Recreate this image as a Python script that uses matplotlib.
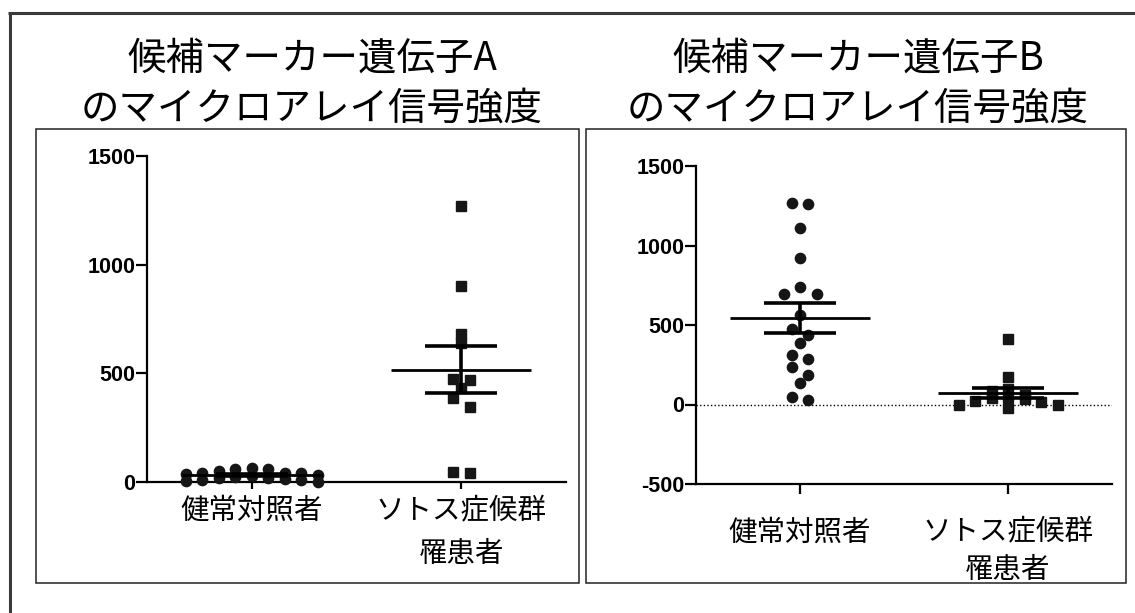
import numpy as np
import matplotlib
matplotlib.use("Agg")
import matplotlib.pyplot as plt
from matplotlib.lines import Line2D
from matplotlib.patches import Rectangle

JP = ["Noto Sans CJK JP", "DejaVu Sans"]
NUM = "Liberation Sans"

# ---- data -------------------------------------------------------------
groups = ["健常対照者", "ソトス症候群\n罹患者"]

titles = ["候補マーカー遺伝子A\nのマイクロアレイ信号強度",
          "候補マーカー遺伝子B\nのマイクロアレイ信号強度"]

gene_a_control = [66, 62, 60, 50, 43, 43, 40, 35, 30, 28, 25, 20, 18, 15, 10, 8, 5, 2]
gene_a_patient = [1270, 902, 681, 638, 474, 469, 431, 385, 347, 45, 40]

gene_b_control = [1268, 1260, 1107, 924, 740, 698, 698, 566, 474, 436, 384,
                  310, 289, 233, 184, 136, 48, 27]
gene_b_patient = [409, 174, 100, 85, 60, 45, 38, 33, 21, 15, -4, -5, -25]

yticks_a = [0, 500, 1000, 1500]
yticks_b = [-500, 0, 500, 1000, 1500]

# ---- figure -----------------------------------------------------------
W, H = 1135, 613
fig = plt.figure(figsize=(W / 100, H / 100), dpi=100)
fig.patch.set_facecolor("white")


def fx(px):
    return px / W


def fy(py):
    return 1 - py / H


# outer frame (top and left edges)
fig.add_artist(Line2D([fx(8), fx(W)], [fy(13), fy(13)], transform=fig.transFigure,
                      color="#3a3a3a", lw=2.2, solid_capstyle="butt"))
fig.add_artist(Line2D([fx(9.5), fx(9.5)], [fy(13), fy(H)], transform=fig.transFigure,
                      color="#3a3a3a", lw=2.2, solid_capstyle="butt"))

# panel boxes
for x0, x1 in [(36, 579), (586, 1126)]:
    fig.add_artist(Rectangle((fx(x0), fy(583)), fx(x1 - x0), (583 - 129) / H,
                             transform=fig.transFigure, fill=False,
                             edgecolor="#222222", lw=1.1))

MARK = "#161616"


def scatter_x(ax, center, values, row_px, gap_px):
    """Column-scatter layout: values falling in the same horizontal band are
    spread symmetrically around the group centre."""
    vals = np.asarray(values, float)
    pts = ax.transData.transform(np.column_stack([np.full(len(vals), center), vals]))
    xc, ys = pts[0, 0], pts[:, 1]
    order = np.argsort(-vals, kind="stable")
    rows, cur = [], [order[0]]
    for i in order[1:]:
        if ys[cur[0]] - ys[i] < row_px:
            cur.append(i)
        else:
            rows.append(cur)
            cur = [i]
    rows.append(cur)
    offs = np.zeros(len(vals))
    for row in rows:
        n = len(row)
        # alternate left/right so the row stays balanced
        slots = (np.arange(n) - (n - 1) / 2.0) * gap_px
        slot_order = np.argsort(np.abs(slots), kind="stable")
        for j, i in enumerate(row):
            offs[i] = slots[slot_order[j]]
    inv = ax.transData.inverted()
    return inv.transform(np.column_stack([xc + offs, ys]))[:, 0]


def mean_sem(ax, x, values):
    v = np.asarray(values, float)
    m = v.mean()
    s = v.std(ddof=1) / np.sqrt(len(v))
    ax.hlines(m, x - 0.335, x + 0.335, color="black", lw=2.0, zorder=5, clip_on=False)
    ax.hlines([m - s, m + s], x - 0.172, x + 0.172, color="black", lw=2.6, zorder=5,
              clip_on=False)
    ax.vlines(x, m - s, m + s, color="black", lw=2.6, zorder=5, clip_on=False)


def style_axes(ax, yticks, xtick_len, xpad, linesp):
    for side in ("top", "right"):
        ax.spines[side].set_visible(False)
    for side in ("left", "bottom"):
        ax.spines[side].set_linewidth(1.6)
        ax.spines[side].set_color("black")
    ax.set_xlim(-0.5, 1.5)
    ax.set_yticks(yticks)
    ax.set_yticklabels([str(t) for t in yticks], fontfamily=NUM, fontweight="bold",
                       fontsize=15.5)
    ax.tick_params(axis="y", direction="out", length=8, width=1.6, pad=0.5)
    ax.set_xticks([0, 1])
    ax.set_xticklabels(groups, fontfamily=JP, fontsize=20.5, linespacing=linesp)
    ax.tick_params(axis="x", direction="out", length=xtick_len, width=1.6, pad=xpad)
    ax.patch.set_alpha(0)


def draw_panel(ax, control, patient, ylim, yticks, xtick_len, xpad, linesp):
    ax.set_ylim(*ylim)
    style_axes(ax, yticks, xtick_len, xpad, linesp)
    xs0 = scatter_x(ax, 0, control, 8.0, 16.5)
    xs1 = scatter_x(ax, 1, patient, 8.5, 16.5)
    ax.plot(xs0, control, "o", ms=7.4, color=MARK, mec=MARK, zorder=4, clip_on=False)
    ax.plot(xs1, patient, "s", ms=6.6, color=MARK, mec=MARK, zorder=4, clip_on=False)
    mean_sem(ax, 0, control)
    mean_sem(ax, 1, patient)


ax_a = fig.add_axes([fx(147), fy(482), fx(566 - 147), (482 - 156) / H])
draw_panel(ax_a, gene_a_control, gene_a_patient, (0, 1500), yticks_a, 5, 5, 1.55)

ax_b = fig.add_axes([fx(696), fy(484), fx(1112 - 696), (484 - 166) / H])
ax_b.axhline(0, color="black", lw=1.0, ls=(0, (1, 1.6)), zorder=1)
draw_panel(ax_b, gene_b_control, gene_b_patient, (-500, 1500), yticks_b, 7, 17, 1.35)

# panel titles
for xc, t in [(312, titles[0]), (858, titles[1])]:
    fig.text(fx(xc), fy(83.5), t, ha="center", va="center", fontfamily=JP,
             fontsize=27.7, linespacing=1.3)

fig.savefig("out.png", dpi=100, facecolor="white")
